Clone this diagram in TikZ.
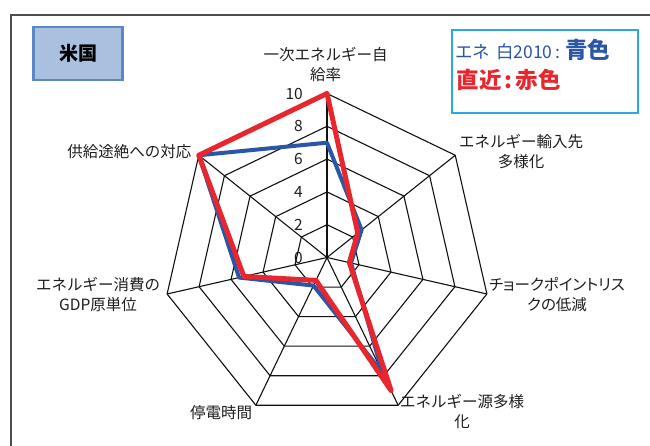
\documentclass[tikz,border=0pt]{standalone}
\usepackage{fontspec}
\setmainfont{Noto Sans CJK JP}
\newfontfamily\jpp[RawFeature=+palt]{Noto Sans CJK JP}
\usetikzlibrary{calc}
\definecolor{gridc}{HTML}{111111}
\definecolor{redc}{HTML}{E8262D}
\definecolor{bluec}{HTML}{2A56A8}
\definecolor{boxfill}{HTML}{A9C1DE}
\definecolor{boxdraw}{HTML}{5B88C2}
\definecolor{legdraw}{HTML}{2AA9E0}
\definecolor{txt}{HTML}{1E1E1E}
\definecolor{framec}{HTML}{4D4D4D}
\begin{document}
\begin{tikzpicture}[x=1pt,y=-1pt,
  lab/.style={font=\fontsize{15.5}{20}\selectfont, text=txt, align=center, inner sep=0pt},
  tick/.style={font=\fontsize{15.5}{18}\selectfont, text=txt, inner sep=0pt, anchor=east},
  gridline/.style={draw=gridc, line width=1.1pt},
  redline/.style={draw=redc, line width=5pt, line join=round},
  blueline/.style={draw=bluec, line width=4pt, line join=round}]
\useasboundingbox (0,0) rectangle (650,446);
\fill[white] (0,0) rectangle (650,446);
% outer frame
\coordinate (f1) at (11,446);
\coordinate (f2) at (11,15);
\coordinate (f3) at (650,15);
\draw[framec, line width=1.2pt] (f1) -- (f2) -- (f3);
% title box
\node[draw=boxdraw, fill=boxfill, line width=2.5pt, minimum width=89pt, minimum height=53pt, inner sep=0pt,
  font=\fontsize{19}{22}\selectfont\bfseries, text=black] (title) at (78.2,53.5) {米国};
% legend box
\node[draw=legdraw, line width=1.4pt, minimum width=186pt, minimum height=83pt, inner sep=0pt] (legend) at (545,71.7) {};
\node[anchor=west, inner sep=0pt, text=bluec] (leg1) at (455,50)
  {\fontsize{17.5}{20}\selectfont エネ\hspace{6pt}白2010\hspace{3pt}:\hspace{5pt}{\fontsize{22.5}{24}\selectfont\bfseries 青色}};
\node[anchor=west, inner sep=0pt, text=redc] (leg2) at (456.5,80)
  {\fontsize{22.5}{24}\selectfont\bfseries 直近\hspace{3pt}:\hspace{3pt}赤色};
% centre
\coordinate (C) at (327,257.5);
% tick labels
\foreach \v in {0,2,...,10}
  \node[tick] (t\v) at (303,{257.5-16.4*\v}) {\v};
% grid vertices
\foreach \i in {1,...,5}{
  \foreach \k in {0,...,6}{
    \pgfmathsetmacro\rr{\i*32.8}
    \pgfmathsetmacro\aa{90-\k*360/7}
    \coordinate (g-\i-\k) at ($(C)+(\aa:\rr pt)$);
  }
}
\foreach \i in {1,...,5}
  \draw[gridline] (g-\i-0) -- (g-\i-1) -- (g-\i-2) -- (g-\i-3) -- (g-\i-4) -- (g-\i-5) -- (g-\i-6) -- cycle;
\foreach \k in {0,...,6}
  \draw[gridline] (C) -- (g-5-\k);
% data points
\foreach \v [count=\k from 0] in {7,2.7,1.5,7.8,1.9,5.5,10}{
  \pgfmathsetmacro\rr{\v*16.4}
  \pgfmathsetmacro\aa{90-\k*360/7}
  \coordinate (b\k) at ($(C)+(\aa:\rr pt)$);
}
\foreach \v [count=\k from 0] in {10,2.4,1.4,9.0,1.55,5.2,10}{
  \pgfmathsetmacro\rr{\v*16.4}
  \pgfmathsetmacro\aa{90-\k*360/7}
  \coordinate (r\k) at ($(C)+(\aa:\rr pt)$);
}
\draw[blueline] (b0) -- (b1) -- (b2) -- (b3) -- (b4) -- (b5) -- (b6) -- cycle;
\draw[redline] (r0) -- (r1) -- (r2) -- (r3) -- (r4) -- (r5) -- (r6) -- cycle;
% axis labels
\node[lab] (a0) at (325.5,65) {一次エネルギー自\\給率};
\node[lab] (a1) at (521,151.3) {エネルギー輸入先\\多様化};
\node[lab] (a2) at (557,294.7) {\jpp チョークポイントリス\\\jpp クの低減};
\node[lab] (a3) at (462,411.8) {エネルギー源多様\\化};
\node[lab] (a4) at (221,412.3) {停電時間};
\node[lab] (a5) at (98,294.7) {エネルギー消費の\\GDP原単位};
\node[lab] (a6) at (129.3,151.7) {供給途絶への対応};
\end{tikzpicture}
\end{document}
